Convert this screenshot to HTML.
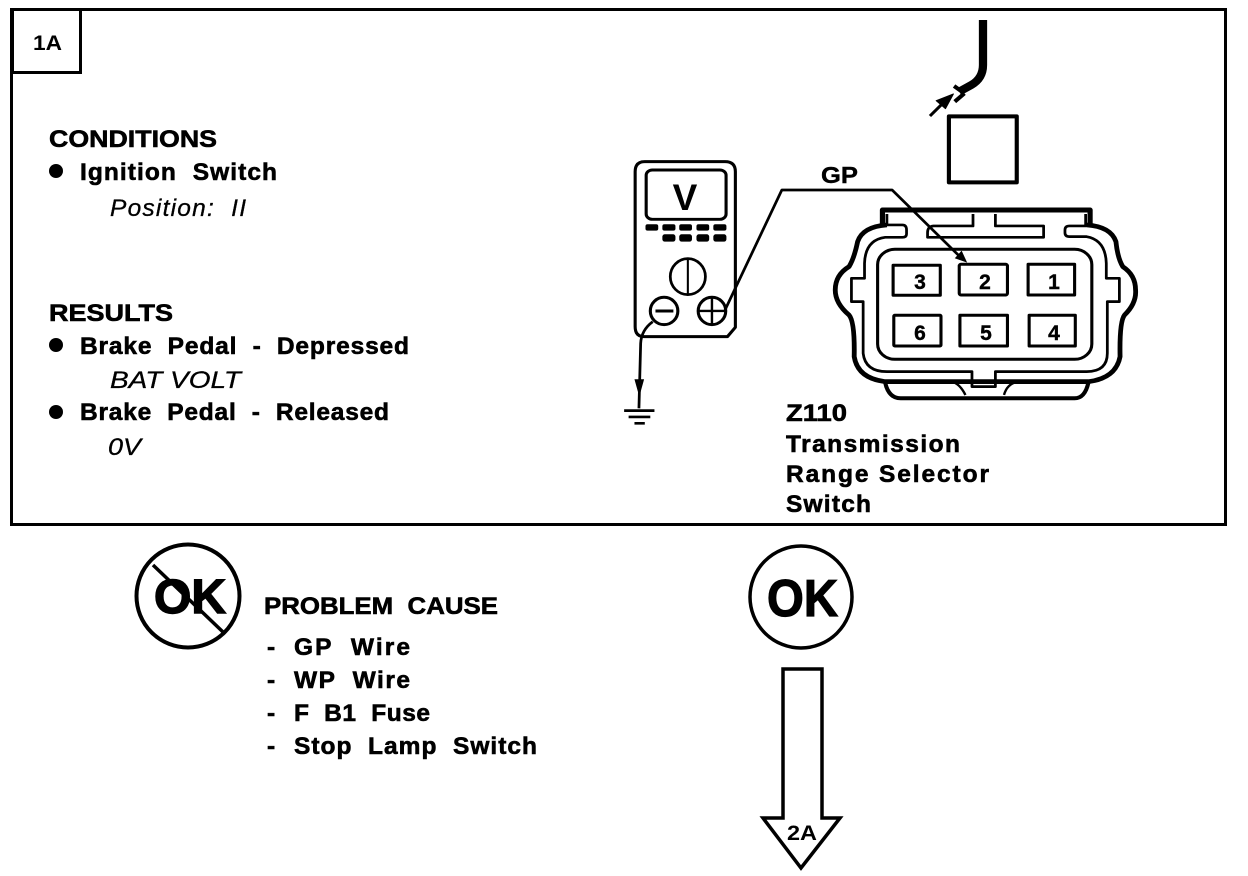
<!DOCTYPE html>
<html><head><meta charset="utf-8"><style>
html,body{margin:0;padding:0;background:#fff}
svg{display:block}
text{font-family:"Liberation Sans",sans-serif;font-weight:700;fill:#000;white-space:pre}
.b{font-size:24.5px;stroke:#000;stroke-width:.6px}
.i{font-size:24.5px;font-style:italic;font-weight:400;stroke:#000;stroke-width:.3px}
.d{font-size:21px;text-anchor:middle;stroke:#000;stroke-width:.4px}
</style></head><body>
<svg width="1248" height="876" viewBox="0 0 1248 876" xmlns="http://www.w3.org/2000/svg">
<rect x="11.5" y="9.5" width="1214" height="515" fill="none" stroke="#000" stroke-width="3"/>
<rect x="12.5" y="9.5" width="68" height="63" fill="none" stroke="#000" stroke-width="3"/>
<text x="33" y="50" font-size="21" textLength="29" lengthAdjust="spacingAndGlyphs">1A</text>

<text class="b" x="49" y="147" textLength="168" lengthAdjust="spacingAndGlyphs">CONDITIONS</text>
<circle cx="56" cy="171" r="7"/>
<text class="b" x="80" y="180" textLength="197">Ignition  Switch</text>
<text class="i" x="110" y="216" textLength="136">Position:  II</text>
<text class="b" x="49" y="321" textLength="124" lengthAdjust="spacingAndGlyphs">RESULTS</text>
<circle cx="56" cy="345" r="7"/>
<text class="b" x="80" y="354" textLength="329">Brake  Pedal  -  Depressed</text>
<text class="i" x="110" y="388" textLength="131" lengthAdjust="spacingAndGlyphs">BAT VOLT</text>
<circle cx="56" cy="412" r="7"/>
<text class="b" x="80" y="420" textLength="309">Brake  Pedal  -  Released</text>
<text class="i" x="108" y="455" textLength="33" lengthAdjust="spacingAndGlyphs">0V</text>

<g transform="translate(620,10) scale(0.3444,0.3333)" fill="none" stroke="#000" stroke-linejoin="round">
  <!-- harness -->
  <path d="M1054,30 L1054,165 Q1054,205 1020,225 L985,245" stroke-width="24"/>
  <path d="M970,228 L1000,250 M972,275 L1000,250" stroke-width="12"/>
  <path d="M900,318 L945,272" stroke-width="9"/>
  <path d="M968,252 L918,272 L945,296 Z" fill="#000" stroke-width="3"/>
  <rect x="955" y="319" width="197" height="198" stroke-width="12"/>
  <!-- meter -->
  <path d="M72,455 H305 Q335,455 335,485 V952 L312,980 H70 Q44,980 44,950 V485 Q44,455 72,455 Z" stroke-width="9"/>
  <rect x="76" y="480" width="232" height="148" rx="18" ry="16" stroke-width="9"/>
  <g fill="#000" stroke="none">
    <rect x="74" y="643" width="37" height="19" rx="6"/>
    <rect x="123" y="643" width="38" height="19" rx="6"/>
    <rect x="172" y="643" width="37" height="19" rx="6"/>
    <rect x="222" y="643" width="37" height="19" rx="6"/>
    <rect x="271" y="643" width="38" height="19" rx="6"/>
    <rect x="123" y="673" width="38" height="22" rx="7"/>
    <rect x="172" y="673" width="37" height="22" rx="7"/>
    <rect x="222" y="673" width="37" height="22" rx="7"/>
    <rect x="271" y="673" width="38" height="22" rx="7"/>
  </g>
  <ellipse cx="197" cy="800" rx="51" ry="54" stroke-width="8"/>
  <path d="M197,746 V854" stroke-width="6"/>
  <ellipse cx="128" cy="903" rx="40" ry="41" stroke-width="9"/>
  <path d="M103,903 H155" stroke-width="9"/>
  <ellipse cx="267" cy="903" rx="40" ry="41" stroke-width="9"/>
  <path d="M227,903 H307 M267,862 V944" stroke-width="7"/>
  <!-- ground -->
  <path d="M95,935 Q62,960 60,1000 L55,1195" stroke-width="8"/>
  <path d="M42,1108 L70,1108 L56,1160 Z" fill="#000" stroke="none"/>
  <path d="M12,1202 H100 M25,1221 H88 M42,1240 H72" stroke-width="8"/>
  <!-- GP wire -->
  <path d="M305,900 L470,540 H790 L985,738" stroke-width="8"/>
  <path d="M1008,758 L972,745 L992,722 Z" fill="#000" stroke="none"/>
  <!-- connector -->
  <path d="M762,645 V600 H1365 V645" stroke-width="15"/>
  <path d="M775,645 Q705,650 690,695 Q680,745 665,770 Q625,795 625,840 Q625,880 665,915 Q682,935 680,1040 Q690,1105 770,1115 H1360 Q1440,1105 1452,1040 Q1450,935 1465,915 Q1500,880 1497,840 Q1497,795 1460,770 Q1445,745 1440,695 Q1425,650 1355,645" stroke-width="14"/>
  <path d="M770,1118 Q780,1165 815,1165 H1320 Q1350,1165 1360,1118" stroke-width="12"/>
  <path d="M775,612 V645 H820 Q832,645 832,660 V672 Q832,682 820,682 H770 Q712,690 710,760 V805 H672 V875 H706 V1030 Q712,1085 775,1085 H1022 V1130 H1090 V1085 H1355 Q1415,1085 1415,1030 V875 H1450 V805 H1412 V760 Q1410,690 1355,680 H1305 Q1292,680 1292,668 V660 Q1292,648 1305,648 H1352 V612" stroke-width="8"/>
  <path d="M1025,612 V648 H910 Q893,650 893,668 V682 H1230 V648 H1090 V612" stroke-width="8"/>
  <path d="M1003,1155 Q985,1118 960,1115 M1115,1155 Q1125,1118 1160,1115" stroke-width="7"/>
  <rect x="748" y="718" width="622" height="330" rx="50" ry="46" stroke-width="9"/>
  <rect x="793" y="766" width="137" height="90" stroke-width="9"/>
  <rect x="985" y="763" width="140" height="92" rx="5" stroke-width="9"/>
  <rect x="1185" y="763" width="135" height="92" stroke-width="9"/>
  <rect x="795" y="916" width="137" height="92" rx="3" stroke-width="9"/>
  <rect x="987" y="916" width="138" height="92" stroke-width="9"/>
  <rect x="1188" y="916" width="134" height="92" stroke-width="9"/>
</g>
<text x="685" y="210" font-size="37" text-anchor="middle">V</text>
<text x="821" y="183" font-size="23" textLength="37" lengthAdjust="spacingAndGlyphs" style="stroke:#000;stroke-width:.4px">GP</text>
<text class="d" x="920" y="289">3</text>
<text class="d" x="985" y="289">2</text>
<text class="d" x="1054" y="289">1</text>
<text class="d" x="920" y="340">6</text>
<text class="d" x="986" y="340">5</text>
<text class="d" x="1054" y="340">4</text>

<text class="b" x="786" y="421" textLength="61" lengthAdjust="spacingAndGlyphs">Z110</text>
<text class="b" x="786" y="452" textLength="174">Transmission</text>
<text class="b" x="786" y="482" textLength="203">Range Selector</text>
<text class="b" x="786" y="512" textLength="85">Switch</text>

<!-- Not OK -->
<circle cx="188" cy="596" r="51.5" fill="none" stroke="#000" stroke-width="4"/>
<text x="154" y="613" font-size="48" textLength="72" lengthAdjust="spacingAndGlyphs" style="stroke:#000;stroke-width:1.4px">OK</text>
<path d="M153,565 L223,632" stroke="#000" stroke-width="3.5"/>
<text class="b" x="264" y="614" textLength="234" lengthAdjust="spacingAndGlyphs">PROBLEM  CAUSE</text>
<text class="b" x="267" y="655">-</text>
<text class="b" x="294" y="655" textLength="116">GP  Wire</text>
<text class="b" x="267" y="688">-</text>
<text class="b" x="294" y="688" textLength="116">WP  Wire</text>
<text class="b" x="267" y="721">-</text>
<text class="b" x="294" y="721" textLength="136">F  B1  Fuse</text>
<text class="b" x="267" y="754">-</text>
<text class="b" x="294" y="754" textLength="243">Stop  Lamp  Switch</text>

<!-- OK -->
<circle cx="801" cy="597" r="51" fill="none" stroke="#000" stroke-width="3.5"/>
<text x="767" y="616" font-size="52" textLength="71" lengthAdjust="spacingAndGlyphs" style="stroke:#000;stroke-width:1.2px">OK</text>
<path d="M783,818 V669 H822 V818 H840 L801,868 L763,818 Z" fill="none" stroke="#000" stroke-width="3.5" stroke-linejoin="miter"/>
<text x="787" y="840" font-size="21" textLength="30" lengthAdjust="spacingAndGlyphs">2A</text>
</svg>
</body></html>
